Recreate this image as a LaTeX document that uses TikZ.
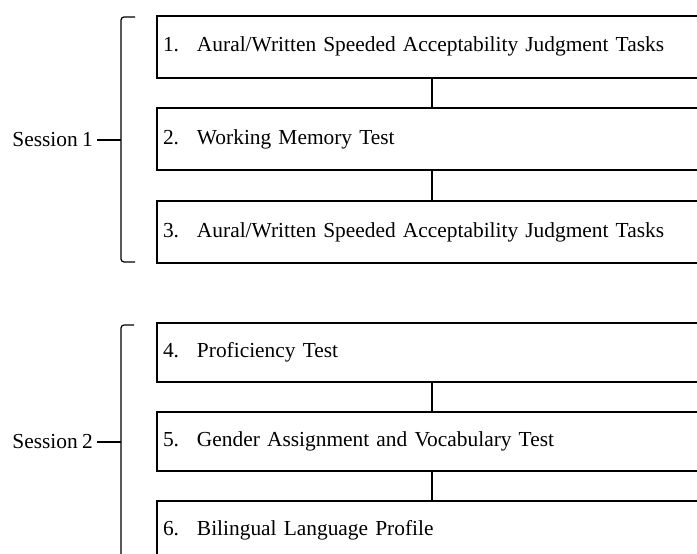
\documentclass[tikz,border=0pt]{standalone}
\usepackage{fontspec}
\setmainfont[WordSpace=0.8]{Liberation Serif}
\usetikzlibrary{positioning}

\begin{document}
\begin{tikzpicture}[x=1pt, y=-1pt,
		every node/.style={font=\fontsize{21.4}{25}\selectfont},
		taskbox/.style={draw, line width=2pt, minimum width=550pt, minimum height=60pt,
			text width=538pt, inner sep=6pt, align=left},
		link/.style={line width=1.7pt},
		bracket/.style={line width=1.2pt, rounded corners=3pt}]
		\clip (0,0) rectangle (697,554);

		% Session 1
		\begin{scope}
			\node[taskbox, minimum height=62pt] (t1) at (432, 46.5) {\makebox[34pt][l]{1.}Aural/Written Speeded Acceptability Judgment Tasks};
			\node[taskbox, minimum height=62pt] (t2) at (432, 139) {\makebox[34pt][l]{2.}Working Memory Test};
			\node[taskbox, minimum height=62pt] (t3) at (432, 232) {\makebox[34pt][l]{3.}Aural/Written Speeded Acceptability Judgment Tasks};
			\draw[link] (t1) -- (t2);
			\draw[link] (t2) -- (t3);

			\node[anchor=east, inner sep=0pt] (s1) at (93, 140) {Session 1};
			\draw[bracket] (135, 17) -- (121, 17) -- (121, 262) -- (135, 262);
			\draw[bracket] (s1.east) ++(4,0) -- (121, 140);
		\end{scope}

		% Session 2
		\begin{scope}
			\node[taskbox, minimum height=59pt] (t4) at (432, 352.5) {\makebox[34pt][l]{4.}Proficiency Test};
			\node[taskbox, minimum height=59pt] (t5) at (432, 441.5) {\makebox[34pt][l]{5.}Gender Assignment and Vocabulary Test};
			\node[taskbox, minimum height=59pt] (t6) at (432, 530.5) {\makebox[34pt][l]{6.}Bilingual Language Profile};
			\draw[link] (t4) -- (t5);
			\draw[link] (t5) -- (t6);

			\node[anchor=east, inner sep=0pt] (s2) at (93, 442) {Session 2};
			\draw[bracket] (134, 325) -- (121, 325) -- (121, 600);
			\draw[bracket] (s2.east) ++(4,0) -- (121, 442);
		\end{scope}
	\end{tikzpicture}
\end{document}
